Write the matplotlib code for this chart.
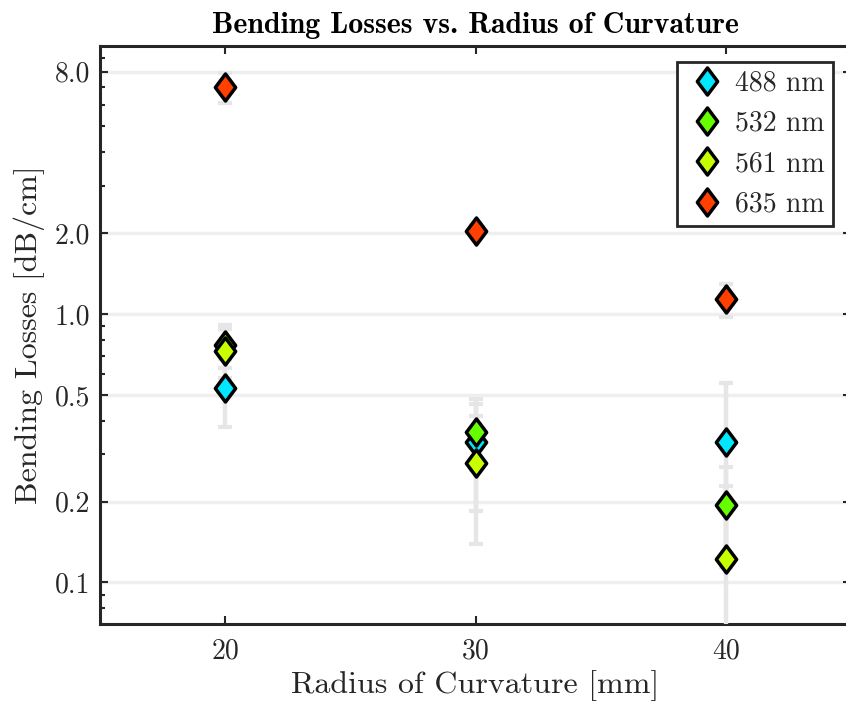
import numpy as np
import matplotlib
matplotlib.use('Agg')
import matplotlib.pyplot as plt
from matplotlib.path import Path

plt.rcParams['font.family'] = ['cmr10', 'DejaVu Serif']
plt.rcParams['mathtext.fontset'] = 'cm'
plt.rcParams['axes.unicode_minus'] = False

# data
radius = [20, 30, 40]
labels = ['488 nm', '532 nm', '561 nm', '635 nm']
colors = ['#00e8ff', '#66ff00', '#c8ff00', '#ff4000']
loss_488 = [0.53, 0.334, 0.334]
loss_532 = [0.77, 0.362, 0.195]
loss_561 = [0.73, 0.278, 0.122]
loss_635 = [7.0, 2.04, 1.135]
err_488 = [0.15, 0.15, 0.22]
err_532 = [0.14, 0.10, 0.075]
err_561 = [0.15, 0.139, 0.107]
err_635 = [0.9, 0.10, 0.16]

yticks = [0.1, 0.2, 0.5, 1.0, 2.0, 8.0]
ytick_labels = ['0.1', '0.2', '0.5', '1.0', '2.0', '8.0']
xticks = [20, 30, 40]

losses = [loss_488, loss_532, loss_561, loss_635]
errs = [err_488, err_532, err_561, err_635]

# diamond a bit narrower than tall, like the matlab one
diamond = Path([(0, 1), (0.75, 0), (0, -1), (-0.75, 0), (0, 1)],
               [Path.MOVETO, Path.LINETO, Path.LINETO, Path.LINETO, Path.CLOSEPOLY])

dark = '#262626'
fig = plt.figure(figsize=(8.46, 7.12), dpi=100)
ax = fig.add_axes([100/846, 1-624/712, 751/846, (624-45.7)/712])

for y, e in zip(losses, errs):
    ax.errorbar(radius, y, yerr=e, fmt='none', ecolor='#e6e6e6',
                elinewidth=3.2, capsize=4.7, capthick=3.0, zorder=3)
for y, c, lab in zip(losses, colors, labels):
    ax.plot(radius, y, linestyle='none', marker=diamond, markersize=19.5,
            markerfacecolor=c, markeredgecolor='black', markeredgewidth=2.5,
            label=lab, zorder=4)

ax.set_yscale('log')
ax.set_xlim(15, 45)
ax.set_ylim(0.07, 10)
ax.set_yticks(yticks, ytick_labels)
ax.yaxis.set_minor_locator(matplotlib.ticker.LogLocator(base=10, subs=np.arange(2, 10)))
ax.yaxis.set_minor_formatter(matplotlib.ticker.NullFormatter())
ax.set_xticks(xticks, [str(v) for v in xticks])

ax.grid(axis='y', which='major', color='#efefef', linewidth=2.5, zorder=0)
ax.set_axisbelow(True)
for s in ax.spines.values():
    s.set_linewidth(2.2)
    s.set_color(dark)
    s.set_zorder(2.5)

ax.tick_params(which='both', direction='in', top=True, right=True, colors=dark,
               labelsize=20)
ax.tick_params(which='major', length=6, width=1.5)
ax.tick_params(which='minor', length=3.5, width=1.5)
ax.tick_params(axis='y', pad=7)
ax.tick_params(axis='x', pad=10)

ax.set_xlabel('Radius of Curvature [mm]', fontsize=23, color=dark, labelpad=4)
ax.set_ylabel('Bending Losses [dB/cm]', fontsize=23, color=dark, labelpad=7)
ax.set_title('Bending Losses vs. Radius of Curvature', fontsize=21.5,
             family='cmb10', color='black', pad=9)

leg = ax.legend(loc='upper right', bbox_to_anchor=(833/846, 1-62/712),
                bbox_transform=fig.transFigure, borderaxespad=0, fontsize=20,
                frameon=True, fancybox=False, edgecolor=dark, framealpha=1,
                borderpad=0.3, labelspacing=0.5, handlelength=1.6,
                handletextpad=0.2)
leg.get_frame().set_linewidth(2.0)
leg.set_zorder(5)
for t in leg.get_texts():
    t.set_color(dark)

fig.savefig('out.png', dpi=100)
